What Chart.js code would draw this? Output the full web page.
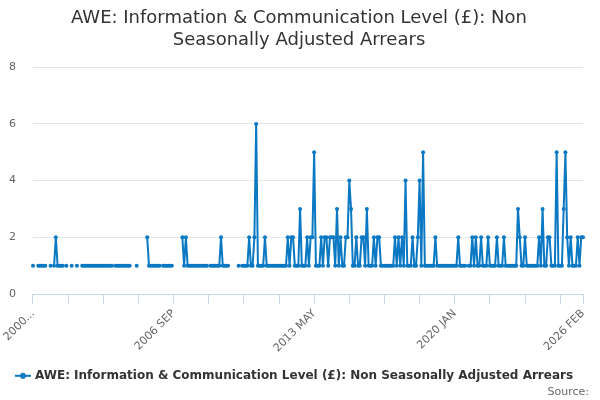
<!DOCTYPE html>
<html>
<head>
<meta charset="utf-8">
<script src="https://cdn.jsdelivr.net/npm/chart.js@4.4.1/dist/chart.umd.min.js"></script>
<style>
html, body { margin: 0; padding: 0; background: #fff; }
#wrap { width: 600px; height: 400px; }
</style>
</head>
<body>
<div id="wrap"><canvas id="awe-chart" width="600" height="400"></canvas></div>
<script>
// monthly categories, 2000 JAN .. 2026 FEB
const monthNames = ['JAN','FEB','MAR','APR','MAY','JUN','JUL','AUG','SEP','OCT','NOV','DEC'];
const months = [];
for (let y = 2000; y <= 2026; y++) {
    for (let m = 0; m < 12; m++) {
        if (y === 2026 && m > 1) break;
        months.push(y + ' ' + monthNames[m]);
    }
}

// arrears level (£), null = no value
const n = null;
const arrears = [
    1,n,n,1,1,1,1,1,n,n,1,n,   // 2000
    1,2,1,1,1,1,n,1,n,n,1,n,   // 2001
    n,1,n,n,1,1,1,1,1,1,1,1,   // 2002
    1,1,1,1,1,1,1,1,1,1,n,1,   // 2003
    1,1,1,1,1,1,1,1,n,n,n,1,   // 2004
    n,n,n,n,n,2,1,1,1,1,1,1,   // 2005
    1,n,1,1,1,1,1,1,n,n,n,n,   // 2006
    n,2,1,2,1,1,1,1,1,1,1,1,   // 2007
    1,1,1,1,n,1,1,1,1,1,1,2,   // 2008
    1,1,1,1,n,n,n,n,n,1,n,1,   // 2009
    1,1,1,2,1,1,2,6,1,1,1,1,   // 2010
    2,1,1,1,1,1,1,1,1,1,1,1,   // 2011
    1,2,1,2,2,1,1,1,3,1,1,1,   // 2012
    2,1,2,2,5,1,1,1,2,1,2,2,   // 2013
    1,2,2,2,1,3,1,2,1,1,2,2,   // 2014
    4,3,1,1,2,1,1,2,2,1,3,1,   // 2015
    1,1,2,1,2,2,1,1,1,1,1,1,   // 2016
    1,1,2,1,2,1,2,1,4,1,1,1,   // 2017
    2,1,1,2,4,1,5,1,1,1,1,1,   // 2018
    1,2,1,1,1,1,1,1,1,1,1,1,   // 2019
    1,1,2,1,1,1,1,n,1,1,2,1,   // 2020
    2,1,1,2,1,1,1,2,1,1,1,1,   // 2021
    2,1,1,1,2,1,1,1,1,1,1,1,   // 2022
    3,2,1,1,2,1,1,1,1,1,1,1,   // 2023
    2,1,3,1,1,2,2,1,1,1,5,1,   // 2024
    1,1,3,5,2,1,2,1,1,1,2,1,   // 2025
    2,2                        // 2026
];

const tickAt   = ['2000 JAN', '2006 SEP', '2013 MAY', '2020 JAN', '2026 FEB'];
const tickText = ['2000...',  '2006 SEP', '2013 MAY', '2020 JAN', '2026 FEB'];
const yTicks = [0, 2, 4, 6, 8];

const seriesName = 'AWE: Information & Communication Level (£): Non Seasonally Adjusted Arrears';
const sourceText = 'Source:';
const lineColor = '#0a78c2';

// legend symbol: short line with a dot on it
function legendMarker() {
    const c = document.createElement('canvas');
    c.width = 16;
    c.height = 8;
    const g = c.getContext('2d');
    g.strokeStyle = lineColor;
    g.lineWidth = 2;
    g.beginPath();
    g.moveTo(0, 4);
    g.lineTo(16, 4);
    g.stroke();
    g.fillStyle = lineColor;
    g.beginPath();
    g.arc(8, 4, 3, 0, Math.PI * 2);
    g.fill();
    return c;
}

// the negative left padding below shifts title and legend too; put them back
const recentre = {
    id: 'recentre',
    afterLayout(chart) {
        if (chart.titleBlock) {
            chart.titleBlock.left = 8;
            chart.titleBlock.right = 590;
        }
        if (chart.legend) {
            chart.legend.left = 7;
            chart.legend.right = 583;
        }
        chart.boxes.forEach(function(b) {
            if (b !== chart.titleBlock && b.options && b.options.text === sourceText) {
                b.right = 589;
            }
        });
    }
};

Chart.defaults.font.family = '"DejaVu Sans", sans-serif';

const ctx = document.getElementById('awe-chart').getContext('2d');
const myChart = new Chart(ctx, {
    type: 'line',
    data: {
        labels: months,
        datasets: [{
            label: seriesName,
            data: arrears,
            borderColor: lineColor,
            backgroundColor: lineColor,
            borderWidth: 2,
            pointRadius: 2,
            pointHoverRadius: 3,
            pointBorderWidth: 0,
            tension: 0,
            spanGaps: false
        }]
    },
    plugins: [recentre],
    options: {
        responsive: false,
        animation: false,
        // negative left padding: the rotated first label is allowed to run to the edge
        layout: { padding: { left: -8, right: 17, top: 0, bottom: 0 } },
        plugins: {
            title: {
                display: true,
                text: ['AWE: Information & Communication Level (£): Non', 'Seasonally Adjusted Arrears'],
                color: '#333333',
                font: { size: 18, weight: 'normal' },
                padding: { top: 8, bottom: 16 }
            },
            legend: {
                position: 'bottom',
                labels: {
                    usePointStyle: true,
                    pointStyle: legendMarker(),
                    color: '#333333',
                    font: { size: 12, weight: 'bold' },
                    padding: 3
                }
            },
            subtitle: {
                display: true,
                position: 'bottom',
                align: 'end',
                text: sourceText,
                color: '#666666',
                font: { size: 11 },
                padding: { top: -6, bottom: 1 }
            },
            tooltip: { enabled: false }
        },
        scales: {
            x: {
                grid: {
                    drawOnChartArea: false,
                    color: '#ccd6eb',
                    tickLength: 10
                },
                border: { color: '#ccd6eb' },
                afterFit: function(axis) {
                    axis.height += 9;
                },
                ticks: {
                    autoSkip: false,
                    minRotation: 45,
                    maxRotation: 45,
                    color: '#666666',
                    font: { size: 11 },
                    callback: function(value, index) {
                        const k = tickAt.indexOf(months[index]);
                        if (k >= 0) return tickText[k];
                        if (index % 20 === 0) return '';
                        return null;
                    }
                }
            },
            y: {
                min: 0,
                max: 8,
                afterBuildTicks: function(axis) {
                    axis.ticks = yTicks.map(v => ({ value: v }));
                },
                grid: { color: '#e6e6e6', drawTicks: false },
                border: { display: false },
                ticks: {
                    color: '#666666',
                    font: { size: 11 },
                    padding: 17
                }
            }
        }
    }
});
</script>
</body>
</html>
